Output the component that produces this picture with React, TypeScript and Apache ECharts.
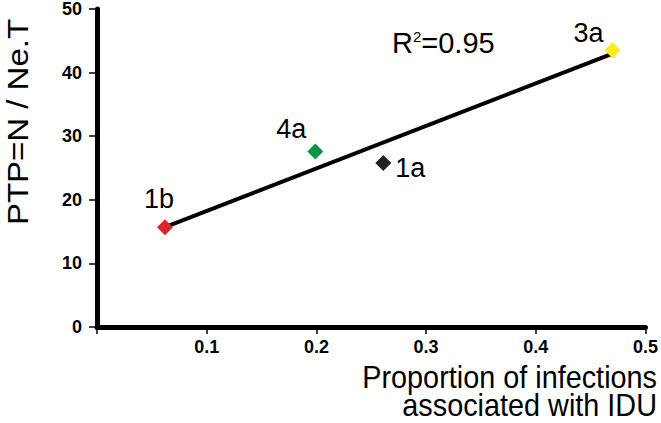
import React, { useEffect, useRef } from "react";
import * as echarts from "echarts";

const pointNames = ["1b", "4a", "1a", "3a"];
const pointX = [0.062, 0.199, 0.261, 0.47];
const pointY = [15.7, 27.6, 25.8, 43.5];
const pointColors = ["#d9262b", "#0f9447", "#231f20", "#f9ec17"];
const labelOffsets = [
  [-6, -28],
  [-24, -22],
  [27, 5],
  [-24, -17],
];
const fitX = [0.062, 0.47];
const fitY = [15.7, 43.0];
const xTicks = [0, 0.1, 0.2, 0.3, 0.4, 0.5];
const yTicks = [0, 10, 20, 30, 40, 50];

export default function App() {
  const ref = useRef<HTMLDivElement>(null);
  useEffect(() => {
    const chart = echarts.init(ref.current!, null, { renderer: "svg" });
    const font = "'Liberation Sans', Arial, sans-serif";
    chart.setOption({
      animation: false,
      backgroundColor: "#ffffff",
      grid: { left: 97, top: 8, right: 15, bottom: 96, containLabel: false },
      xAxis: {
        type: "value",
        min: xTicks[0],
        max: xTicks[xTicks.length - 1],
        interval: 0.1,
        splitLine: { show: false },
        axisLine: { show: true, onZero: false, lineStyle: { color: "#000", width: 5 } },
        axisTick: { show: true, length: 7, lineStyle: { color: "#000", width: 1.5 } },
        axisLabel: {
          color: "#000",
          fontFamily: font,
          fontWeight: "bold",
          fontSize: 18,
          margin: 11,
          formatter: (v: number) => (v === 0 ? "" : String(Math.round(v * 10) / 10)),
        },
      },
      yAxis: {
        type: "value",
        min: yTicks[0],
        max: yTicks[yTicks.length - 1],
        interval: 10,
        splitLine: { show: false },
        axisLine: { show: true, lineStyle: { color: "#000", width: 5 } },
        axisTick: { show: true, length: 8, lineStyle: { color: "#000", width: 1.5 } },
        axisLabel: {
          color: "#000",
          fontFamily: font,
          fontWeight: "bold",
          fontSize: 18,
          margin: 15,
        },
      },
      series: [
        {
          type: "line",
          data: fitX.map((x, i) => [x, fitY[i]]),
          symbol: "none",
          lineStyle: { color: "#000", width: 4 },
          z: 2,
        },
        {
          type: "scatter",
          symbol: "diamond",
          symbolSize: 16,
          z: 3,
          data: pointNames.map((n, i) => ({
            name: n,
            value: [pointX[i], pointY[i]],
            itemStyle: { color: pointColors[i], opacity: 1 },
            label: {
              show: true,
              position: "inside",
              align: "center",
              verticalAlign: "middle",
              offset: labelOffsets[i],
              formatter: n,
              color: "#000",
              fontFamily: font,
              fontSize: 27,
            },
          })),
        },
      ],
      graphic: [
        {
          type: "text",
          x: 18,
          y: 122,
          rotation: Math.PI / 2,
          scaleX: 1.1,
          style: {
            text: "PTP=N / Ne.T",
            fontFamily: font,
            fontSize: 30,
            fill: "#000",
            align: "center",
            verticalAlign: "middle",
          },
        },
        {
          type: "text",
          x: 657,
          y: 393,
          scaleX: 0.93,
          style: {
            text: "Proportion of infections",
            fontFamily: font,
            fontSize: 31,
            fill: "#000",
            align: "right",
            verticalAlign: "bottom",
          },
        },
        {
          type: "text",
          x: 657,
          y: 421,
          scaleX: 0.93,
          style: {
            text: "associated with IDU",
            fontFamily: font,
            fontSize: 31,
            fill: "#000",
            align: "right",
            verticalAlign: "bottom",
          },
        },
        {
          type: "text",
          x: 392,
          y: 43,
          style: {
            text: "{r|R}{s|2}{r|=0.95}",
            fontFamily: font,
            fill: "#000",
            verticalAlign: "middle",
            rich: {
              r: { fontFamily: font, fontSize: 29, fill: "#000", verticalAlign: "bottom" },
              s: { fontFamily: font, fontSize: 15, fill: "#000", verticalAlign: "top", lineHeight: 15 },
            },
          },
        },
      ],
    });
    return () => chart.dispose();
  }, []);
  return (
    <div
      ref={ref}
      style={{ position: "fixed", left: 0, top: 0, width: 661, height: 423, background: "#fff" }}
    />
  );
}
